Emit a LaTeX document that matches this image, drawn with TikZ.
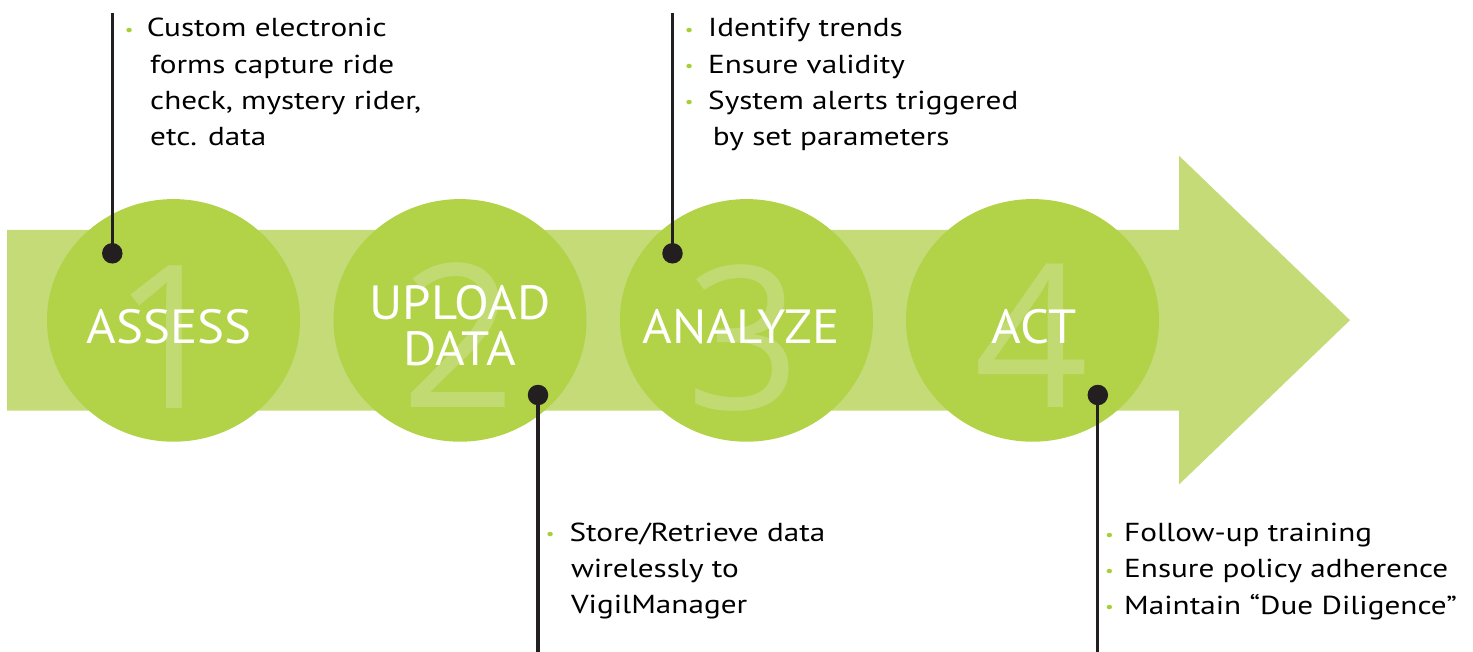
\documentclass[tikz,border=0pt]{standalone}
\usepackage{fontspec}
\setmainfont{PT Sans}
\newfontfamily\blockfont[FakeStretch=1.2]{PT Sans}
\newfontfamily\labelfont[FakeStretch=1.06]{PT Sans}
\newfontfamily\numfont{Open Sans}
\definecolor{bandgreen}{HTML}{C4DB78}
\definecolor{circgreen}{HTML}{B2D247}
\definecolor{numgreen}{HTML}{C1DA72}
\definecolor{darkline}{HTML}{231F20}
\definecolor{bulgreen}{HTML}{A6CE39}
\newcommand{\blt}{\makebox[0pt][c]{\fontsize{16}{16}\selectfont\raisebox{1.5pt}{\textcolor{bulgreen}{\textbullet}}}}
\begin{document}
\begin{tikzpicture}[x=1pt,y=-1pt,
  stepcirc/.style={ellipse, fill=circgreen, minimum width=253pt, minimum height=242.6pt, inner sep=0pt, draw=none},
  bignum/.style={font=\numfont\fontsize{200}{200}\selectfont, text=numgreen, inner sep=0pt, anchor=base},
  steplabel/.style={font=\labelfont\fontsize{48}{48}\selectfont, text=white, inner sep=0pt, anchor=base},
  pin/.style={circle, fill=darkline, minimum size=20.5pt, inner sep=0pt},
  pinline/.style={draw=darkline, line width=3.3pt},
  blocktext/.style={font=\blockfont\fontsize{26}{36.4}\selectfont, text=black, inner sep=0pt, anchor=base west}]
\useasboundingbox (0,0) rectangle (1473,652);
\usetikzlibrary{shapes.geometric}
% arrow band
\fill[bandgreen] (7,230) -- (1179,230) -- (1179,155.7) -- (1350,320.2) -- (1179,484.5) -- (1179,410.6) -- (7,410.6) -- cycle;
% circles
\node[stepcirc] (c1) at (173.5,320.4) {};
\node[stepcirc] (c2) at (460,320.4) {};
\node[stepcirc] (c3) at (746.5,320.4) {};
\node[stepcirc] (c4) at (1032.5,320.4) {};
% numerals
\node[bignum] (n1) at (170,408) {1};
\node[bignum] (n2) at (459,407) {2};
\node[bignum] (n3) at (744,409) {3};
\node[bignum] (n4) at (1032,407.5) {4};
% labels
\node[steplabel] (l1) at (169,344) {ASSESS};
\node[steplabel] (l2a) at (460,320) {UPLOAD};
\node[steplabel] (l2b) at (460,366) {DATA};
\node[steplabel] (l3) at (741,343.5) {ANALYZE};
\node[steplabel] (l4) at (1034,343.5) {ACT};
% pins
\node[pin] (p1) at (112.3,253.3) {};
\node[pin] (p2) at (538,395) {};
\node[pin] (p3) at (672.5,253.3) {};
\node[pin] (p4) at (1097.8,395) {};
\coordinate (e1) at (112.3,13);
\coordinate (e2) at (538,652);
\coordinate (e3) at (672.5,13);
\coordinate (e4) at (1097.8,652);
\draw[pinline] (e1) -- (p1.center);
\draw[pinline] (p2.center) -- (e2);
\draw[pinline] (e3) -- (p3.center);
\draw[pinline] (p4.center) -- (e4);
% text blocks
\node[blocktext] (t1) at (129,36.7) {\begin{tabular}[t]{@{}l@{}}
\blt\hspace{17.7pt}Custom electronic\\
\hspace{21pt}forms capture ride\\
\hspace{21pt}check, mystery rider,\\
\hspace{21pt}etc. data\end{tabular}};
\node[blocktext] (t3) at (689,36.7) {\begin{tabular}[t]{@{}l@{}}
\blt\hspace{19pt}Identify trends\\
\blt\hspace{19pt}Ensure validity\\
\blt\hspace{19pt}System alerts triggered\\
\hspace{23.7pt}by set parameters\end{tabular}};
\node[blocktext] (t2) at (550,541) {\begin{tabular}[t]{@{}l@{}}
\blt\hspace{19.3pt}Store/Retrieve data\\
\hspace{20.8pt}wirelessly to\\
\hspace{20.8pt}VigilManager\end{tabular}};
\node[blocktext] (t4) at (1109.3,541.5) {\begin{tabular}[t]{@{}l@{}}
\blt\hspace{14.7pt}Follow-up training\\
\blt\hspace{14.7pt}Ensure policy adherence\\
\blt\hspace{14.7pt}Maintain “Due Diligence”\end{tabular}};
\end{tikzpicture}
\end{document}
